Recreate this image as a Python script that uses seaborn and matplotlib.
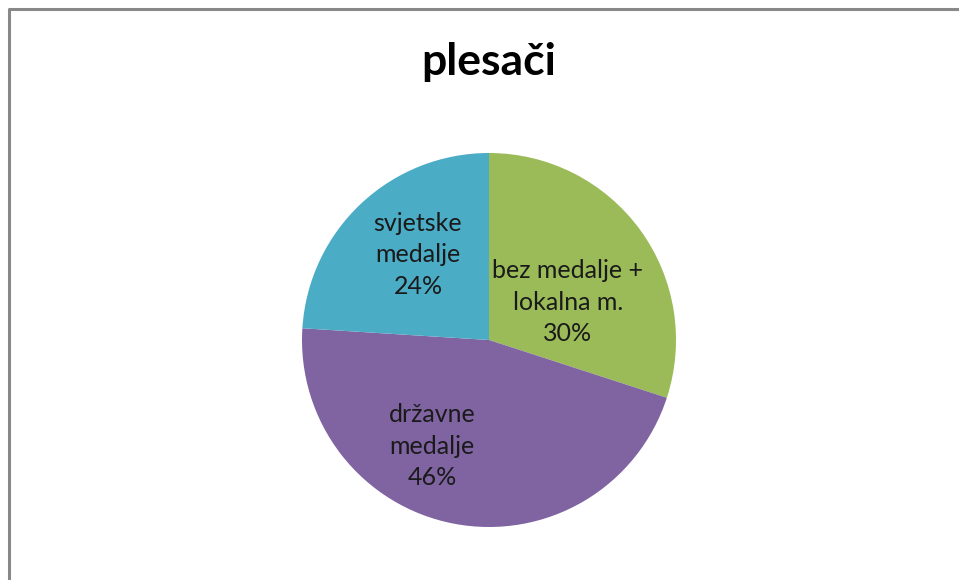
import matplotlib
matplotlib.use("Agg")
import matplotlib.pyplot as plt
import seaborn as sns

# data
categories = ["bez medalje +\nlokalna m.", "državne\nmedalje", "svjetske\nmedalje"]
shares = [30, 46, 24]
colors = ["#9BBB59", "#8064A2", "#4BACC6"]
title = "plesači"

sns.set_theme(style="white")
plt.rcParams['font.family'] = ['Lato', 'DejaVu Sans']

W, H = 959, 580
fig = plt.figure(figsize=(W / 100, H / 100), dpi=100)
ax = fig.add_axes([0, 0, 1, 1])
ax.set_xlim(0, W)
ax.set_ylim(0, H)
ax.set_aspect("equal")
ax.axis("off")

cx, cy, r = 489, H - 340, 187
wedges, texts = ax.pie(shares, colors=colors, startangle=90, counterclock=False,
                       center=(cx, cy), radius=r, labels=None,
                       wedgeprops=dict(linewidth=0))
ax.set_xlim(0, W)
ax.set_ylim(0, H)

# label offsets from the centre (Excel-style inside labels)
offsets = [(79, 38), (-57, -106), (-71, 85)]
for lab, v, (dx, dy) in zip(categories, shares, offsets):
    ax.text(cx + dx, cy + dy, f"{lab}\n{v}%", ha="center", va="center",
            fontsize=18, color="#1a1a1a", linespacing=1.45)

ax.text(cx, H - 62, title, ha="center", va="center", fontsize=32,
        fontweight="bold", color="black")

# chart frame (left and top visible)
ax.plot([9, 9, W], [0, H - 9, H - 9], color="#888888", lw=2.2, clip_on=False,
        solid_capstyle="butt")

fig.savefig("out.png", dpi=100)
